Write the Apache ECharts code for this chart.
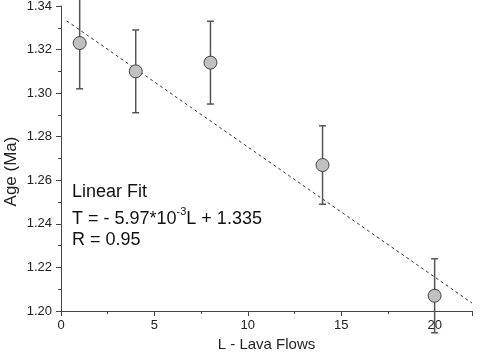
<!DOCTYPE html>
<html>
<head>
<meta charset="utf-8">
<script src="https://cdn.jsdelivr.net/npm/echarts@6/dist/echarts.min.js"></script>
<style>
html,body{margin:0;padding:0;background:#fff;}
#chart{width:480px;height:358px;}
</style>
</head>
<body>
<div id="chart"></div>
<script>
// Data
const lavaFlows = [1, 4, 8, 14, 20];
const ages = [1.323, 1.310, 1.314, 1.267, 1.207];
const ageErrors = [0.021, 0.019, 0.019, 0.018, 0.017];
const fitSlope = -5.97e-3;
const fitIntercept = 1.335;
const fitXRange = [0.3, 22];
const annotationLines = ['Linear Fit', 'T = - 5.97*10', '-3', 'L + 1.335', 'R = 0.95'];

const FONT = 'Liberation Sans, Arial, sans-serif';
const chart = echarts.init(document.getElementById('chart'), null, {renderer: 'canvas'});

const pointData = lavaFlows.map((x, i) => [x, ages[i]]);
const errData = lavaFlows.map((x, i) => [x, ages[i] - ageErrors[i], ages[i] + ageErrors[i]]);
const fitData = fitXRange.map(x => [x, fitIntercept + fitSlope * x]);

const axisColor = '#444';

chart.setOption({
  animation: false,
  backgroundColor: '#fff',
  grid: {left: 61, right: 8, top: 6, bottom: 47, containLabel: false, outerBoundsMode: 'none'},
  xAxis: {
    type: 'value', min: 0, max: 22, interval: 5,
    name: 'L - Lava Flows', nameLocation: 'middle', nameGap: 26, nameMoveOverlap: false,
    nameTextStyle: {fontFamily: FONT, fontSize: 15, color: '#222'},
    axisLine: {show: true, lineStyle: {color: axisColor, width: 1}},
    axisTick: {show: true, length: 5, lineStyle: {color: axisColor}},
    minorTick: {show: true, splitNumber: 2, length: 3, lineStyle: {color: axisColor}},
    splitLine: {show: false},
    axisLabel: {fontFamily: FONT, fontSize: 13, color: '#222', margin: 8,
      formatter: v => (v % 5 === 0 ? String(v) : '')}
  },
  yAxis: {
    type: 'value', min: 1.2, max: 1.34, interval: 0.02,
    name: 'Age (Ma)', nameLocation: 'middle', nameGap: 41, nameMoveOverlap: false,
    nameTextStyle: {fontFamily: FONT, fontSize: 17, color: '#222', padding: [0, 26, 0, 0]},
    axisLine: {show: true, lineStyle: {color: axisColor, width: 1}},
    axisTick: {show: true, length: 5, lineStyle: {color: axisColor}},
    minorTick: {show: true, splitNumber: 2, length: 3, lineStyle: {color: axisColor}},
    splitLine: {show: false},
    axisLabel: {fontFamily: FONT, fontSize: 13, color: '#222', margin: 9,
      formatter: v => v.toFixed(2)}
  },
  series: [
    {
      type: 'line',
      data: fitData,
      symbol: 'none',
      clip: false,
      lineStyle: {color: '#333', width: 1, type: [3, 3]},
      z: 1
    },
    {
      type: 'custom',
      clip: false,
      data: errData,
      renderItem: function (params, api) {
        const x = api.value(0);
        const lo = api.coord([x, api.value(1)]);
        const hi = api.coord([x, api.value(2)]);
        const cap = 3.5;
        const style = {stroke: '#555', lineWidth: 1.5};
        return {
          type: 'group',
          children: [
            {type: 'line', shape: {x1: lo[0], y1: lo[1], x2: hi[0], y2: hi[1]}, style: style},
            {type: 'line', shape: {x1: lo[0] - cap, y1: lo[1], x2: lo[0] + cap, y2: lo[1]}, style: style},
            {type: 'line', shape: {x1: hi[0] - cap, y1: hi[1], x2: hi[0] + cap, y2: hi[1]}, style: style}
          ]
        };
      },
      z: 2
    },
    {
      type: 'scatter',
      data: pointData,
      symbol: 'circle',
      symbolSize: 13,
      clip: false,
      itemStyle: {color: '#c0c0c0', borderColor: '#444', borderWidth: 1, opacity: 1},
      z: 3
    }
  ],
  graphic: [
    {type: 'text', left: 72, top: 183, style: {text: annotationLines[0], font: '18px ' + FONT, fill: '#111'}},
    {type: 'text', left: 72, top: 206, style: {
      text: '{a|' + annotationLines[1] + '}{s|' + annotationLines[2] + '}{a|' + annotationLines[3] + '}',
      fill: '#111',
      rich: {
        a: {fontFamily: FONT, fontSize: 18, lineHeight: 22, verticalAlign: 'bottom'},
        s: {fontFamily: FONT, fontSize: 11, lineHeight: 22, verticalAlign: 'top'}
      }
    }},
    {type: 'text', left: 72, top: 231, style: {text: annotationLines[4], font: '18px ' + FONT, fill: '#111'}}
  ]
});
</script>
</body>
</html>
